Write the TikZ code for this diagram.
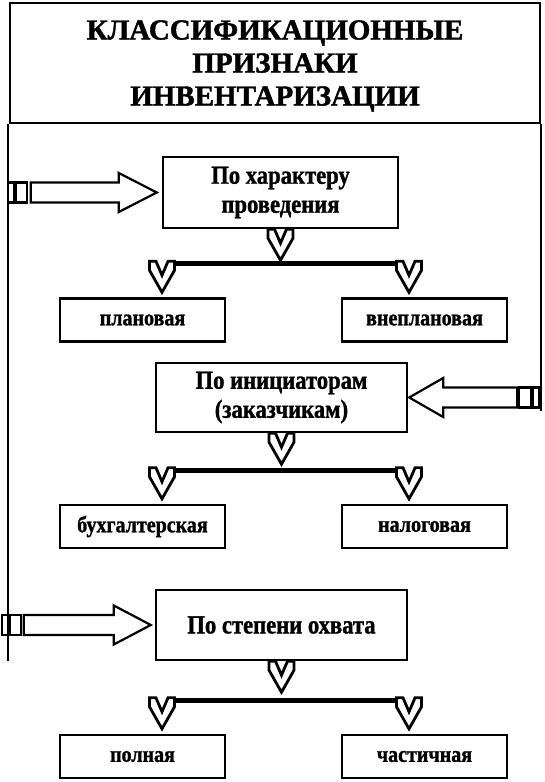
\documentclass[tikz,border=0pt]{standalone}
\usepackage{fontspec}
\setmainfont{Liberation Serif}[BoldFeatures={FakeBold=1.5}]
\newfontfamily\boxfont{Liberation Serif}[FakeStretch=0.87,BoldFeatures={FakeBold=1.2}]
\usetikzlibrary{calc}
\tikzset{
  titlebox/.style={draw, line width=2pt, inner sep=0pt},
  titletext/.style={align=center, inner sep=0pt,
    font=\bfseries\fontsize{29}{33}\selectfont},
  bigbox/.style={draw, line width=2.4pt, fill=white, align=center, inner sep=0pt,
    font=\boxfont\bfseries\fontsize{26}{29}\selectfont},
  smallbox/.style={draw, line width=2.4pt, fill=white, align=center, inner sep=0pt,
    minimum width=165pt, minimum height=43pt,
    font=\boxfont\bfseries\fontsize{23}{26}\selectfont},
  blockarr/.style={draw, line width=2.2pt, fill=white, line join=miter},
  vline/.style={line width=2pt},
  barline/.style={line width=5pt},
  chev/.pic={\draw[line width=2.8pt, fill=white, line join=miter]
     (-12.5,0) -- (-12.5,9) -- (0,31) -- (12.5,9) -- (12.5,0) -- (6,0) -- (0,14) -- (-6,0) -- cycle;}
}
\begin{document}
\begin{tikzpicture}[x=1pt,y=-1pt]
\useasboundingbox (0,0) rectangle (545,782);

% title
\node[titlebox, minimum width=530pt, minimum height=120pt] (title) at (275,63) {};
\node[titletext] (ttext) at ($(title.center)+(0,3)$)
  {КЛАССИФИКАЦИОННЫЕ\\ПРИЗНАКИ\\ИНВЕНТАРИЗАЦИИ};

% side lines
\coordinate (Ltop) at ($(title.south west)+(-1,0)$);
\coordinate (Lbot) at ($(Ltop)+(0,537)$);
\coordinate (Rtop) at (title.south east);
\coordinate (Rbot) at ($(Rtop)+(0,287)$);
\draw[vline] (Ltop) -- (Lbot);
\draw[vline] (Rtop) -- (Rbot);

% main boxes
\node[bigbox, minimum width=235pt, minimum height=71pt] (b1) at (280.5,192.5) {По характеру\\проведения};
\node[bigbox, minimum width=251pt, minimum height=69pt] (b2) at (281.5,397.5) {По инициаторам\\(заказчикам)};
\node[bigbox, minimum width=251pt, minimum height=70pt] (b3) at (281.5,625) {По степени охвата};

% small boxes
\node[smallbox] (s1l) at (142.5,320) {плановая};
\node[smallbox] (s1r) at (424.5,320) {внеплановая};
\node[smallbox] (s2l) at (142.5,526.5) {бухгалтерская};
\node[smallbox] (s2r) at (424.5,526.5) {налоговая};
\node[smallbox] (s3l) at (142.5,756.5) {полная};
\node[smallbox] (s3r) at (424.5,756.5) {частичная};

% branch connectors
\foreach \b/\l/\r in {b1/s1l/s1r, b2/s2l/s2r, b3/s3l/s3r}{
  \coordinate (cl) at ($(\l.north)+(19.5,-36)$);
  \coordinate (cr) at ($(\r.north)+(-15.5,-36)$);
  \draw[barline] ($(cl)+(12,2.5)$) -- ($(cr)+(-12,2.5)$);
  \pic at (\b.south) {chev};
  \pic at (cl) {chev};
  \pic at (cr) {chev};
}

% block arrow 1 (left, top)
\coordinate (a1) at ($(b1.west)+(-5,0)$);
\draw[blockarr] (a1) -- ++(-38,-19.5) -- ++(0,9.5) -- ++(-88,0) -- ++(0,20) -- ++(88,0) -- ++(0,9.5) -- cycle;
\draw[blockarr] ($(a1)+(-130,-10)$) rectangle ++(-11,20);
\draw[blockarr] ($(a1)+(-143,-10)$) rectangle ++(-6,20);

% block arrow 2 (right)
\coordinate (a2) at ($(b2.east)+(1,0)$);
\draw[blockarr] (a2) -- ++(34,-19.5) -- ++(0,9.5) -- ++(74,0) -- ++(0,20) -- ++(-74,0) -- ++(0,9.5) -- cycle;
\draw[blockarr] ($(a2)+(110,-10)$) rectangle ++(12,20);
\draw[blockarr] ($(a2)+(124,-10)$) rectangle ++(6,20);

% block arrow 3 (left, bottom)
\coordinate (a3) at ($(b3.west)+(-4,0)$);
\draw[blockarr] (a3) -- ++(-37,-19.5) -- ++(0,9.5) -- ++(-90,0) -- ++(0,20) -- ++(90,0) -- ++(0,9.5) -- cycle;
\draw[blockarr] ($(a3)+(-130,-10)$) rectangle ++(-11,20);
\draw[blockarr] ($(a3)+(-143,-10)$) rectangle ++(-6,20);
\end{tikzpicture}
\end{document}
